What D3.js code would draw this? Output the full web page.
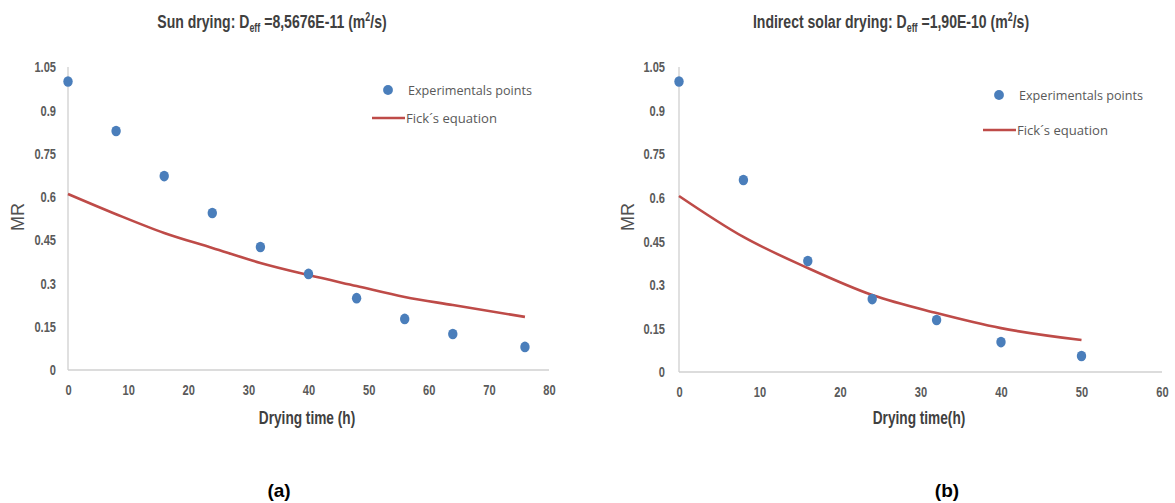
<!DOCTYPE html>
<html>
<head>
<meta charset="utf-8">
<script src="https://cdn.jsdelivr.net/npm/d3@7"></script>
<style>
  html, body { margin: 0; padding: 0; background: #fff; }
  svg { display: block; }
</style>
</head>
<body>
<svg id="chart" width="1175" height="503"></svg>
<script>
// Drying time (h) for each panel
const timeSun = [0, 8, 16, 24, 32, 40, 48, 56, 64, 76];
const timeIndirect = [0, 8, 16, 24, 32, 40, 50];

// Experimental moisture ratio
const mrSunExp = [1.0, 0.828, 0.672, 0.544, 0.426, 0.333, 0.249, 0.177, 0.125, 0.080];
const mrIndirectExp = [1.0, 0.661, 0.382, 0.251, 0.179, 0.103, 0.055];

// Moisture ratio predicted by Fick's equation
const mrSunFick = [0.610, 0.540, 0.475, 0.423, 0.371, 0.329, 0.291, 0.253, 0.225, 0.184];
const mrIndirectFick = [0.606, 0.465, 0.358, 0.265, 0.203, 0.151, 0.110];

// Axis ticks
const yTicks = [0, 0.15, 0.3, 0.45, 0.6, 0.75, 0.9, 1.05];
const xTicksSun = [0, 10, 20, 30, 40, 50, 60, 70, 80];
const xTicksIndirect = [0, 10, 20, 30, 40, 50, 60];

const legendLabels = ["Experimentals points", "Fick\u00b4s equation"];

const svg = d3.select("#chart");
const DOT = "#4a7ebb";
const LINE = "#be4b48";
const ARIAL = "'Liberation Sans', Arial, sans-serif";
const NARROW_X = 0.74;   // horizontal squeeze giving a narrow face

function styleTicks(sel) {
  sel.attr("fill", "#5a5a5a").style("font-family", ARIAL)
    .style("font-size", "15px").style("font-weight", "bold");
}

function panel(cfg) {
  const x = d3.scaleLinear().domain(cfg.xDomain).range([cfg.left, cfg.right]);
  const y = d3.scaleLinear().domain([0, 1.05]).range([cfg.bottom, cfg.top]);
  const g = svg.append("g");

  // y axis
  const ya = g.append("g").attr("transform", `translate(${cfg.left},0)`)
    .call(d3.axisLeft(y).tickValues(yTicks).tickSize(0)
      .tickFormat(d => String(+d.toFixed(2))));
  ya.select(".domain").attr("stroke", "#d0d0d0").attr("stroke-width", 1.3)
    .attr("d", `M0,${cfg.bottom}V${cfg.top}`);
  ya.selectAll("text").call(styleTicks)
    .attr("x", -cfg.yPad / NARROW_X).attr("transform", `scale(${NARROW_X},1)`);

  // x axis
  const xa = g.append("g").attr("transform", `translate(0,${cfg.bottom})`)
    .call(d3.axisBottom(x).tickValues(cfg.xTicks).tickSize(0).tickPadding(14));
  xa.select(".domain").attr("stroke", "#d0d0d0").attr("stroke-width", 1.3)
    .attr("d", `M${cfg.left},0H${cfg.right}`);
  xa.selectAll(".tick text").call(styleTicks).attr("transform", `scale(${NARROW_X},1)`);

  // Fick's equation curve
  const pts = cfg.t.map((t, i) => [t, cfg.fick[i]]);
  g.append("path").datum(pts)
    .attr("fill", "none").attr("stroke", LINE).attr("stroke-width", 2.6)
    .attr("d", d3.line().x(d => x(d[0])).y(d => y(d[1])).curve(d3.curveMonotoneX));

  // experimental points
  g.selectAll("ellipse.pt").data(cfg.t.map((t, i) => [t, cfg.exp[i]])).join("ellipse")
    .attr("class", "pt")
    .attr("cx", d => x(d[0])).attr("cy", d => y(d[1]))
    .attr("rx", 4.7).attr("ry", 5.3).attr("fill", DOT);

  // title with subscript and superscript
  const title = g.append("text")
    .attr("transform", `translate(${cfg.titleX},28) scale(${cfg.titleScale},1)`)
    .attr("text-anchor", "middle").attr("fill", "#404040")
    .style("font-family", ARIAL).style("font-size", "19px").style("font-weight", "bold");
  title.append("tspan").text(cfg.titleA);
  title.append("tspan").attr("dy", 4).style("font-size", "12px").text("eff");
  title.append("tspan").attr("dy", -4).text(cfg.titleB);
  title.append("tspan").attr("dy", -7).style("font-size", "12px").text("2");
  title.append("tspan").attr("dy", 7).text("/s)");

  // axis titles
  g.append("text").attr("transform", `translate(${cfg.xTitleX},424) scale(0.76,1)`)
    .attr("text-anchor", "middle")
    .attr("fill", "#404040").style("font-family", ARIAL).style("font-size", "18px")
    .style("font-weight", "bold").text(cfg.xTitle);
  g.append("text").attr("transform", `translate(${cfg.yTitleX},217) rotate(-90)`)
    .attr("text-anchor", "middle").attr("dominant-baseline", "central").attr("fill", "#505050")
    .style("font-family", ARIAL).style("font-size", "18px")
    .text("MR");

  // legend
  const lg = g.append("g").style("font-family", "'Open Sans', sans-serif")
    .style("font-size", "12.5px").attr("fill", "#595959");
  lg.append("circle").attr("cx", cfg.legX + 16).attr("cy", cfg.legY1).attr("r", 4.9).attr("fill", DOT);
  lg.append("text").attr("x", cfg.legX + 36).attr("y", cfg.legY1 + 4.5)
    .attr("textLength", 124).attr("lengthAdjust", "spacingAndGlyphs").text(legendLabels[0]);
  lg.append("line").attr("x1", cfg.legX).attr("x2", cfg.legX + 33)
    .attr("y1", cfg.legY2).attr("y2", cfg.legY2).attr("stroke", LINE).attr("stroke-width", 2.6);
  lg.append("text").attr("x", cfg.legX + 34).attr("y", cfg.legY2 + 4.5)
    .attr("textLength", 91).attr("lengthAdjust", "spacingAndGlyphs").text(legendLabels[1]);

  // panel letter
  g.append("text").attr("x", cfg.letterX).attr("y", 497).attr("text-anchor", "middle")
    .attr("fill", "#000").style("font-family", ARIAL)
    .style("font-size", "19px").style("font-weight", "bold").text(cfg.letter);
}

panel({
  t: timeSun, exp: mrSunExp, fick: mrSunFick,
  xDomain: [0, 80], xTicks: xTicksSun,
  left: 68, right: 549, top: 67, bottom: 370, yPad: 12,
  titleX: 272, titleScale: 0.74, titleA: "Sun drying: D", titleB: " =8,5676E-11 (m",
  xTitle: "Drying time (h)", xTitleX: 307, yTitleX: 18,
  legX: 372, legY1: 90, legY2: 118,
  letter: "(a)", letterX: 279
});

panel({
  t: timeIndirect, exp: mrIndirectExp, fick: mrIndirectFick,
  xDomain: [0, 60], xTicks: xTicksIndirect,
  left: 679, right: 1162, top: 67, bottom: 372, yPad: 14,
  titleX: 891, titleScale: 0.74, titleA: "Indirect solar drying: D", titleB: " =1,90E-10 (m",
  xTitle: "Drying time(h)", xTitleX: 919, yTitleX: 628,
  legX: 983, legY1: 95, legY2: 130,
  letter: "(b)", letterX: 947
});
</script>
</body>
</html>
